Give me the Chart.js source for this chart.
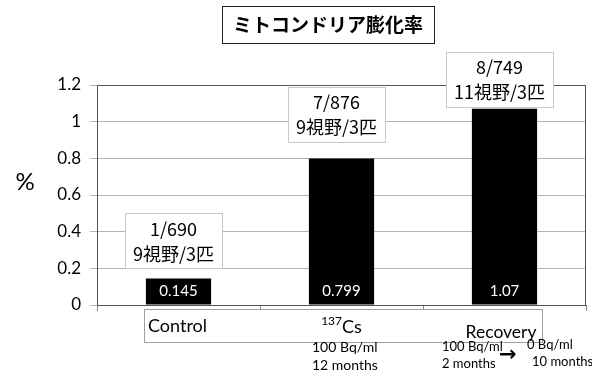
<!DOCTYPE html>
<html>
<head>
<meta charset="utf-8">
<script src="https://cdn.jsdelivr.net/npm/chart.js@4"></script>
<style>
  html,body{margin:0;padding:0;background:#fff;}
  #wrap{width:592px;height:371px;position:relative;}
</style>
</head>
<body>
<div id="wrap"><canvas id="chart"></canvas></div>
<script>
// ─── DATOS ───────────────────────────────────────────────────────────────
const categorias = ['Control', '137Cs', 'Recovery'];
const tasas = [0.145, 0.799, 1.07];
const etiquetas = ['0.145', '0.799', '1.07'];
const recuentos = ['1/690', '7/876', '8/749'];
const campos = ['9視野/3匹', '9視野/3匹', '11視野/3匹'];
const cajaY = [0.35, 1.04, 1.23];   // centro de cada recuadro, en unidades del eje
const titulo = 'ミトコンドリア膨化率';

const JP = '"Noto Sans CJK JP", sans-serif';
const LAT = 'Lato, "Open Sans", sans-serif';

function caja(ctx, x, y, w, h, borde) {
  ctx.fillStyle = '#fff';
  ctx.fillRect(x, y, w, h);
  ctx.strokeStyle = borde;
  ctx.lineWidth = 1;
  ctx.strokeRect(Math.round(x)+0.5, Math.round(y)+0.5, Math.round(w), Math.round(h));
}

const extras = {
  id: 'extras',
  afterDatasetsDraw(chart) {
    const {ctx, chartArea: a, scales: {y}} = chart;
    ctx.save();
    // marco del área de trazado
    ctx.strokeStyle = '#555';
    ctx.lineWidth = 1;
    ctx.strokeRect(Math.round(a.left)+0.5, Math.round(a.top)+0.5, Math.round(a.right-a.left)-1, Math.round(a.bottom-a.top));

    const bars = chart.getDatasetMeta(0).data;
    ctx.textAlign = 'center';
    ctx.textBaseline = 'middle';
    bars.forEach((b, i) => {
      // valor dentro de la barra
      ctx.fillStyle = '#fff';
      ctx.font = '15px ' + LAT;
      ctx.fillText(etiquetas[i], b.x, b.base - 13);

      // recuadro con recuentos
      ctx.font = '18px ' + JP;
      const w = Math.max(ctx.measureText(recuentos[i]).width, ctx.measureText(campos[i]).width) + 16;
      const h = 55;
      const cx = b.x - 5;
      const cy = y.getPixelForValue(cajaY[i]);
      caja(ctx, cx - w/2, cy - h/2, w, h, '#c8c8c8');
      ctx.fillStyle = '#000';
      ctx.fillText(recuentos[i], cx, cy - 12);
      ctx.fillText(campos[i], cx, cy + 13);
    });
    ctx.restore();
  },
  afterDraw(chart) {
    const {ctx, chartArea: a} = chart;
    const bars = chart.getDatasetMeta(0).data;
    ctx.save();
    ctx.textBaseline = 'middle';

    // título
    ctx.font = 'bold 19px ' + JP;
    const tw = ctx.measureText(titulo).width;
    const tx = 328;
    caja(ctx, tx - tw/2 - 11, 6, tw + 22, 37, '#222');
    ctx.fillStyle = '#000';
    ctx.textAlign = 'center';
    ctx.fillText(titulo, tx, 25);

    // eje y
    ctx.font = '24px ' + LAT;
    ctx.fillText('%', 25, 182);

    // recuadro de categorías
    caja(ctx, 144, a.bottom + 4, 398, 33, '#a0a0a0');
    ctx.fillStyle = '#000';
    ctx.font = '18px ' + LAT;
    ctx.textAlign = 'left';
    ctx.fillText(categorias[0], 148, a.bottom + 21);
    ctx.textAlign = 'right';
    ctx.font = '17.5px ' + LAT;
    ctx.fillText(categorias[2], bars[2].x + 32, a.bottom + 27);

    // 137Cs con superíndice
    const cs = bars[1].x;
    ctx.textAlign = 'left';
    ctx.font = '12px ' + LAT;
    const sw = ctx.measureText('137').width;
    ctx.font = '18px ' + LAT;
    const cw = ctx.measureText('Cs').width;
    const sx = cs - (sw + cw)/2;
    ctx.font = '12px ' + LAT;
    ctx.fillText('137', sx, a.bottom + 16);
    ctx.font = '18px ' + LAT;
    ctx.fillText('Cs', sx + sw, a.bottom + 22);

    // condiciones de exposición
    ctx.font = '14px ' + LAT;
    ctx.fillText('100 Bq/ml', 312, 347);
    ctx.fillText('12 months', 312, 365);
    ctx.font = '13px ' + LAT;
    ctx.fillText('100 Bq/ml', 442, 347);
    ctx.fillText('2 months', 442, 364);
    ctx.fillText('0 Bq/ml', 527, 345);
    ctx.fillText('10 months', 532, 362);
    ctx.font = 'bold 21px "DejaVu Sans", sans-serif';
    ctx.fillText('→', 499, 356);
    ctx.restore();
  }
};

new Chart(document.getElementById('chart'), {
  type: 'bar',
  data: {
    labels: categorias,
    datasets: [{
      data: tasas,
      backgroundColor: '#000',
      borderWidth: 0,
      barPercentage: 0.4,
      categoryPercentage: 1
    }]
  },
  options: {
    responsive: true,
    maintainAspectRatio: false,
    animation: false,
    layout: {padding: {top: 85, right: 6, left: 0, bottom: 0}},
    plugins: {legend: {display: false}, tooltip: {enabled: false}, title: {display: false}},
    scales: {
      x: {
        ticks: {display: false},
        grid: {drawOnChartArea: false, tickLength: 6, color: '#888', offset: true},
        border: {color: '#555'},
        afterFit: s => { s.height = 66; }
      },
      y: {
        min: 0, max: 1.2,
        ticks: {
          stepSize: 0.2, color: '#000', font: {family: LAT, size: 17}, padding: 9,
          callback: v => String(Math.round(v * 10) / 10)
        },
        grid: {color: '#b4b4b4', tickLength: 7},
        border: {color: '#555'},
        afterFit: s => { s.width = 97; }
      }
    }
  },
  plugins: [extras]
});
</script>
</body>
</html>
